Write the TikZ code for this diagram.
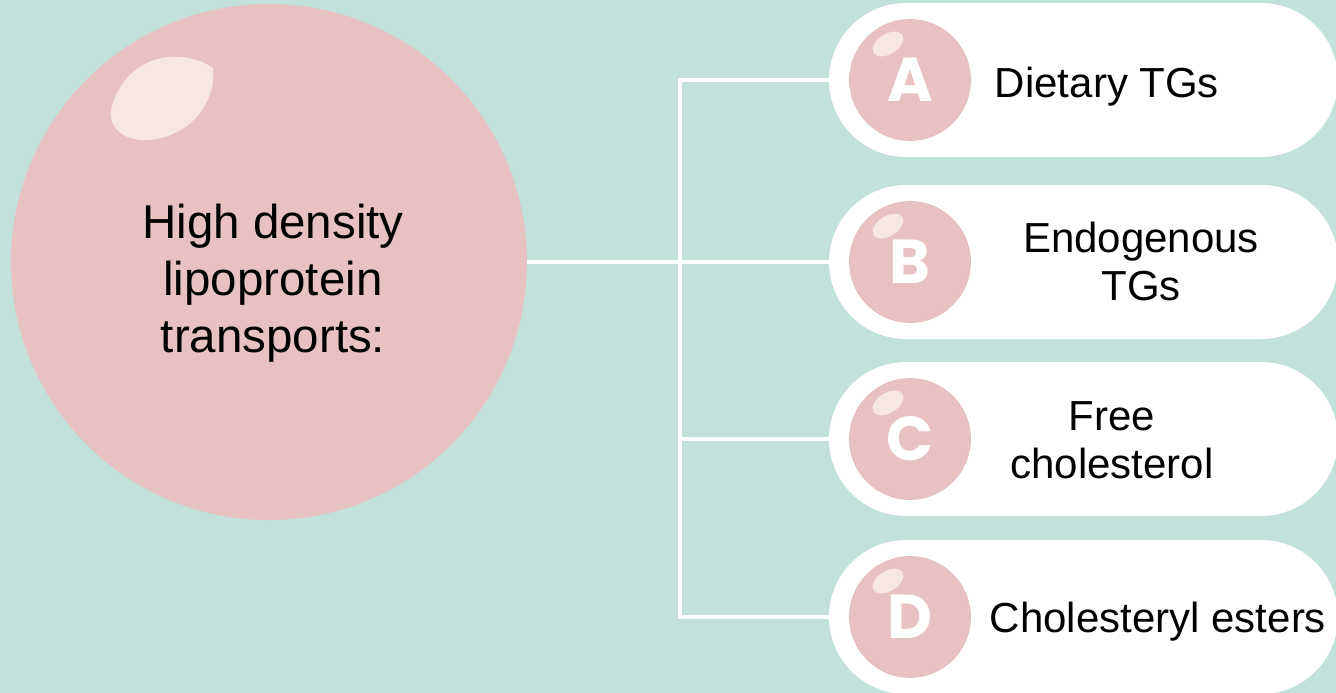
\documentclass[tikz,border=0pt]{standalone}
\usepackage{fontspec}
\setmainfont{Liberation Sans}
\newfontfamily\letterfont{Poppins}
\usetikzlibrary{shapes.misc}
\definecolor{bg}{HTML}{C2E1DB}
\definecolor{pinkfill}{HTML}{E8C2C2}
\definecolor{pinkedge}{HTML}{E4B8B8}
\definecolor{shine}{HTML}{F8E7E1}
\tikzset{
  bigball/.style={circle, fill=pinkfill, minimum size=516pt, inner sep=0pt},
  pill/.style={rounded rectangle, fill=white, minimum width=509pt, minimum height=154pt, inner sep=0pt},
  lettercirc/.style={circle, fill=pinkfill, draw=pinkedge, line width=0.6pt, minimum size=121pt, inner sep=0pt,
    text=white, font={\letterfont\bfseries\fontsize{62}{62}\selectfont}},
  conn/.style={draw=white, line width=4.5pt},
  lefttext/.style={align=center, text=black, font={\fontsize{47.5}{57}\selectfont}, inner sep=0pt},
  righttext/.style={align=center, text=black, font={\fontsize{42}{48}\selectfont}, inner sep=0pt},
}
\begin{document}
\begin{tikzpicture}[x=1pt,y=-1pt]
\fill[bg] (0,0) rectangle (1336,693);
\useasboundingbox (0,0) rectangle (1336,693);

% coordinates of the trunk
\coordinate (tA) at (680,80);
\coordinate (tC) at (680,439);
\coordinate (tD) at (680,617);

% big ball
\node[bigball] (hdl) at (269,262) {};
\fill[shine] (213,68) .. controls (182,47) and (128,53) .. (112,106)
  .. controls (103,140) and (150,152) .. (187,126)
  .. controls (207,110) and (215,88) .. (213,68);
\node[lefttext] (hdlt) at (273,283) {High density\\lipoprotein\\transports:};

% pills
\node[pill] (pA) at (1083.5,80) {};
\node[pill] (pB) at (1083.5,262) {};
\node[pill] (pC) at (1083.5,439) {};
\node[pill] (pD) at (1083.5,617) {};

% connectors
\draw[conn] (hdl.east) -- (pB.west);
\draw[conn] (pA.west) -- (tA) -- (tD) -- (pD.west);
\draw[conn] (tC) -- (pC.west);

% letter circles
\node[lettercirc] (cA) at (910,80) {A};
\node[lettercirc] (cB) at (910,262) {B};
\node[lettercirc] (cC) at (910,439) {C};
\node[lettercirc] (cD) at (910,617) {D};
\foreach \yy in {80,262,439,617}{
  \begin{scope}[shift={(888,\yy-36)}, rotate=32]
    \fill[shine] (0,0) ellipse [x radius=17, y radius=10];
  \end{scope}
}

% labels
\node[righttext, anchor=base] (lA) at (1107,97) {Dietary TGs};
\node[righttext] (lB) at (1141,261) {Endogenous\\TGs};
\node[righttext] (lC) at (1112,440) {Free\\cholesterol};
\node[righttext, anchor=base] (lD) at (1158,632) {Cholesteryl esters};
\end{tikzpicture}
\end{document}
